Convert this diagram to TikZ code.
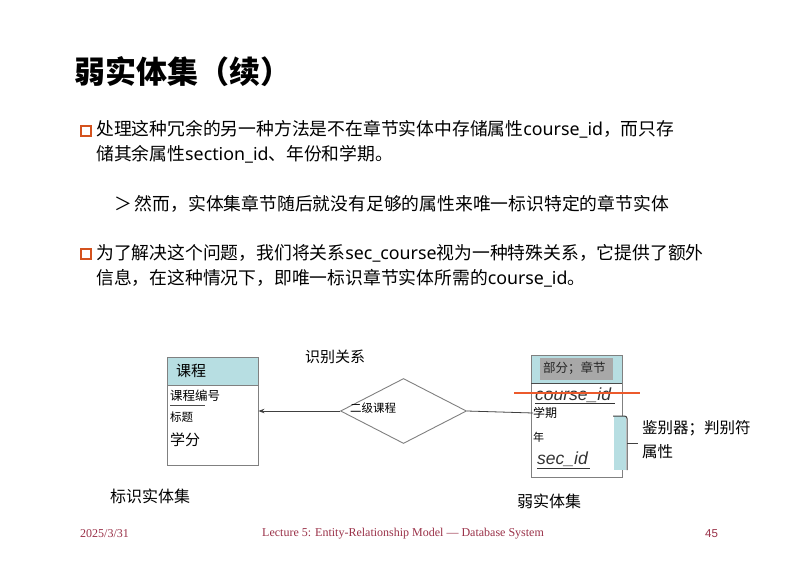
\documentclass[tikz,border=0pt]{standalone}
\usepackage{fontspec}
\setmainfont{Noto Sans}
\newfontfamily\cjk{Noto Sans CJK SC}
\newfontfamily\lat{Noto Sans}
\newfontfamily\serifft{Liberation Serif}
\newfontfamily\arialft{Liberation Sans}
\usetikzlibrary{shapes.geometric,arrows.meta}

\definecolor{hdrcyan}{HTML}{B7DEE2}
\definecolor{bulletred}{HTML}{D4521E}
\definecolor{strikered}{HTML}{EC5A2C}
\definecolor{boxgray}{HTML}{808080}
\definecolor{hdrgray}{HTML}{A8A8A8}
\definecolor{footred}{HTML}{9A3148}
\definecolor{attrtext}{HTML}{333333}

\tikzset{
  txt/.style={inner sep=0pt, anchor=west, text=black},
  body/.style={txt, font=\cjk\fontsize{17.8}{20}\selectfont},
  bulletbox/.style={draw=bulletred, line width=2pt, fill=white,
    minimum size=10pt, inner sep=0pt, anchor=center},
  entitybox/.style={draw=boxgray, line width=0.9pt, inner sep=0pt, anchor=center},
  relshape/.style={diamond, draw=boxgray, line width=0.9pt, inner sep=0pt, anchor=center},
  relline/.style={draw=black!75, line width=0.8pt},
  idattr/.style={txt, text=attrtext, font=\arialft\itshape\fontsize{17.5}{17}\selectfont},
  foot/.style={inner sep=0pt, text=footred, font=\serifft\fontsize{12}{12}\selectfont},
  bracket/.style={draw=black!75, line width=1pt},
}

\begin{document}
\begin{tikzpicture}[x=1pt,y=-1pt]
\useasboundingbox (0,0) rectangle (803,568);
\fill[white] (0,0) rectangle (803,568);

% heading
\node[txt, font=\cjk\bfseries\fontsize{31}{31}\selectfont] (title) at (74,72) {弱实体集（续）};

% bullet points
\node[bulletbox] (bul1) at (85.5,131) {};
\node[body] (l1) at (96,129) {处理这种冗余的另一种方法是不在章节实体中存储属性{\lat course\_id}，而只存};
\node[body] (l2) at (96,154) {储其余属性{\lat section\_id}、年份和学期。};
\node[body] (l3) at (114,204) {＞\,然而，实体集章节随后就没有足够的属性来唯一标识特定的章节实体};
\node[bulletbox] (bul2) at (85.5,254) {};
\node[body] (l4) at (96,253) {为了解决这个问题，我们将关系{\lat sec\_course}视为一种特殊关系，它提供了额外};
\node[body] (l5) at (96,278) {信息，在这种情况下，即唯一标识章节实体所需的{\lat course\_id}。};

% strong entity set: course
\fill[hdrcyan] (167,357) rectangle (258,385);
\node[entitybox, minimum width=91pt, minimum height=108pt] (course) at (212.5,411) {};
\draw[boxgray, line width=0.9pt] (167,385) -- (258,385);
\node[txt, font=\cjk\fontsize{15}{15}\selectfont] (cname) at (176,371) {课程};
\node[txt, font=\cjk\fontsize{12.5}{13}\selectfont] (cid) at (170,396) {课程编号};
\draw[black!70, line width=0.6pt] (170,405) -- (205,405);
\node[txt, font=\cjk\fontsize{11.5}{12}\selectfont] (ctitle) at (170,417) {标题};
\node[txt, font=\cjk\fontsize{15}{15}\selectfont] (ccred) at (170,440) {学分};

% identifying relationship
\node[relshape, minimum width=126pt, minimum height=65pt] (rel) at (403.5,411) {};
\node[txt, font=\cjk\fontsize{11.5}{12}\selectfont] (rellabel) at (350,408) {二级课程};
\node[txt, font=\cjk\fontsize{15}{15}\selectfont] (reltitle) at (305,357) {识别关系};

% weak entity set: section
\fill[hdrcyan] (531,355) rectangle (622,383);
\fill[hdrgray] (540,358) rectangle (613,380);
\node[entitybox, minimum width=91pt, minimum height=122pt] (section) at (576.5,416) {};
\draw[black!70, line width=0.9pt] (531,383) -- (622,383);
\node[txt, text=black!85, font=\cjk\fontsize{12.5}{13}\selectfont] (sname) at (543,368) {部分；章节};
\node[idattr] (scourse) at (535,395) {course\_id};
\draw[attrtext, line width=0.8pt] (535,403) -- (615,403);
\node[txt, font=\cjk\fontsize{12}{12}\selectfont] (sterm) at (533,413) {学期};
\node[txt, font=\cjk\fontsize{11}{11}\selectfont] (syear) at (533,437) {年};
\node[idattr] (ssec) at (537,459) {sec\_id};
\draw[attrtext, line width=0.8pt] (537,468) -- (590,468);
\draw[strikered, line width=1.8pt] (514,393) -- (640,393);

% discriminator bracket
\fill[hdrcyan] (614,416) rectangle (626,470);
\draw[bracket, rounded corners=2.5pt] (613,416) -- (627,416) -- (627,470);
\coordinate (tick) at (627,443);
\draw[bracket] (tick) -- (638,443);
\node[txt, font=\cjk\fontsize{15.5}{16}\selectfont] (disc1) at (642,428) {鉴别器；判别符};
\node[txt, font=\cjk\fontsize{15.5}{16}\selectfont] (disc2) at (642,452) {属性};

% connectors
\draw[relline, -{Stealth[length=6pt,width=4.5pt]}] (rel.west) -- (course.east);
\draw[relline] (rel.east) -- (sterm.west);

% captions
\node[txt, font=\cjk\fontsize{16}{16}\selectfont] (capstrong) at (110,496) {标识实体集};
\node[txt, font=\cjk\fontsize{16}{16}\selectfont] (capweak) at (517,501) {弱实体集};

% footer
\node[foot, anchor=west] (fdate) at (80,534) {2025/3/31};
\node[foot, anchor=center] (ftitle) at (403,534) {Lecture 5: Entity-Relationship Model — Database System};
\node[foot, anchor=west, font=\arialft\fontsize{11.5}{12}\selectfont] (fpage) at (705,534) {45};
\end{tikzpicture}
\end{document}
